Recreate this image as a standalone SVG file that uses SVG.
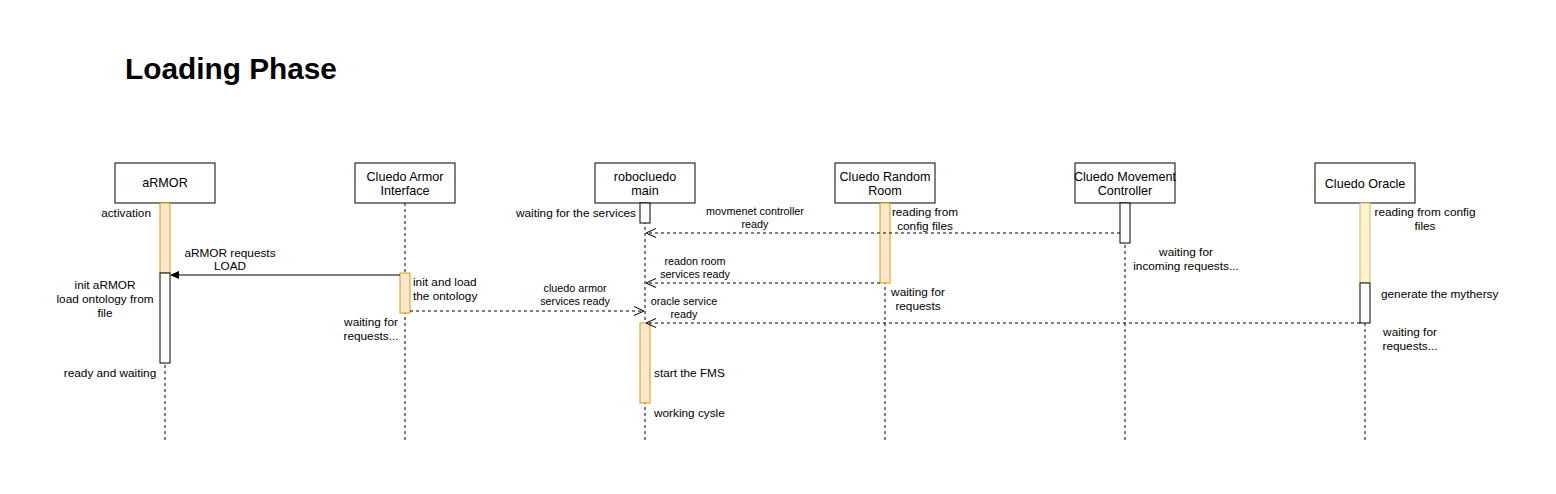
<svg xmlns="http://www.w3.org/2000/svg" width="1556" height="494" viewBox="0 0 1556 494">
<style>
text{font-family:"Liberation Sans",Arial,sans-serif;fill:#000}
.box{fill:#fff;stroke:#000;stroke-width:1}
.life{stroke:#000;stroke-width:1;stroke-dasharray:3,3;fill:none}
.actO{fill:#ffe6cc;stroke:#d79b00;stroke-width:1}
.actY{fill:#fff2cc;stroke:#d6b656;stroke-width:1}
.actW{fill:#fff;stroke:#000;stroke-width:1}
.lbl{font-size:12.6px;text-anchor:middle}
.t{font-size:11.8px}
.e{font-size:10.8px;text-anchor:middle}
.msg{stroke:#000;stroke-width:1;fill:none}
.ret{stroke:#000;stroke-width:1;fill:none;stroke-dasharray:3,3}
</style>
<defs>
<marker id="block" markerWidth="10" markerHeight="10" refX="8" refY="5" orient="auto" markerUnits="userSpaceOnUse">
<path d="M0,1.5 L8,5 L0,8.5 Z" fill="#000" stroke="#000"/>
</marker>
<marker id="open" markerWidth="12" markerHeight="12" refX="10" refY="6" orient="auto" markerUnits="userSpaceOnUse">
<path d="M0,1.5 L10,6 L0,10.5" fill="none" stroke="#000" stroke-width="1"/>
</marker>
</defs>
<rect width="1556" height="494" fill="#fff"/>
<text x="125" y="79" style="font-size:29.8px;font-weight:bold">Loading Phase</text>

<g id="armor">
<rect class="box" x="115" y="163" width="100" height="40"/>
<text class="lbl" x="165" y="187">aRMOR</text>
<line class="life" x1="165" y1="203" x2="165" y2="440"/>
<rect class="actO" x="160" y="203" width="10" height="70"/>
<rect class="actW" x="160" y="273" width="10" height="90"/>
<text class="t" x="151" y="217" text-anchor="end">activation</text>
<text class="t" text-anchor="middle" x="105" y="289">init aRMOR</text>
<text class="t" text-anchor="middle" x="105" y="303">load ontology from</text>
<text class="t" text-anchor="middle" x="105" y="317">file</text>
<text class="t" text-anchor="middle" x="110" y="377">ready and waiting</text>
</g>

<g id="armor-interface">
<rect class="box" x="355" y="163" width="100" height="40"/>
<text class="lbl" x="405" y="181">Cluedo Armor</text>
<text class="lbl" x="405" y="195">Interface</text>
<line class="life" x1="405" y1="203" x2="405" y2="440"/>
<rect class="actO" x="400" y="273" width="10" height="40"/>
<text class="t" x="413" y="286">init and load</text>
<text class="t" x="413" y="300">the ontology</text>
<text class="t" text-anchor="middle" x="371" y="326">waiting for</text>
<text class="t" text-anchor="middle" x="371" y="340">requests...</text>
</g>

<g id="robocluedo-main">
<rect class="box" x="595" y="163" width="100" height="40"/>
<text class="lbl" x="645" y="181">robocluedo</text>
<text class="lbl" x="645" y="195">main</text>
<line class="life" x1="645" y1="203" x2="645" y2="440"/>
<rect class="actW" x="640" y="203" width="10" height="20"/>
<rect class="actO" x="640" y="323" width="10" height="80"/>
<text class="t" x="636" y="217" text-anchor="end">waiting for the services</text>
<text class="t" x="654" y="377">start the FMS</text>
<text class="t" x="654" y="417">working cysle</text>
</g>

<g id="random-room">
<rect class="box" x="835" y="163" width="100" height="40"/>
<text class="lbl" x="885" y="181">Cluedo Random</text>
<text class="lbl" x="885" y="195">Room</text>
<line class="life" x1="885" y1="203" x2="885" y2="440"/>
<rect class="actO" x="880" y="203" width="10" height="80"/>
<text class="t" text-anchor="middle" x="925" y="216">reading from</text>
<text class="t" text-anchor="middle" x="925" y="230">config files</text>
<text class="t" text-anchor="middle" x="918" y="296">waiting for</text>
<text class="t" text-anchor="middle" x="918" y="310">requests</text>
</g>

<g id="movement-controller">
<rect class="box" x="1075" y="163" width="100" height="40"/>
<text class="lbl" x="1125" y="181">Cluedo Movement</text>
<text class="lbl" x="1125" y="195">Controller</text>
<line class="life" x1="1125" y1="203" x2="1125" y2="440"/>
<rect class="actW" x="1120" y="203" width="10" height="40"/>
<text class="t" text-anchor="middle" x="1186" y="256">waiting for</text>
<text class="t" text-anchor="middle" x="1186" y="270">incoming requests...</text>
</g>

<g id="oracle">
<rect class="box" x="1315" y="163" width="100" height="40"/>
<text class="lbl" x="1365" y="188">Cluedo Oracle</text>
<line class="life" x1="1365" y1="203" x2="1365" y2="440"/>
<rect class="actY" x="1360" y="203" width="10" height="80"/>
<rect class="actW" x="1360" y="283" width="10" height="40"/>
<text class="t" text-anchor="middle" x="1425" y="216">reading from config</text>
<text class="t" text-anchor="middle" x="1425" y="230">files</text>
<text class="t" x="1381" y="298">generate the mythersy</text>
<text class="t" text-anchor="middle" x="1410" y="336">waiting for</text>
<text class="t" text-anchor="middle" x="1410" y="350">requests...</text>
</g>

<g id="connectors">
<line class="msg" x1="400" y1="275" x2="171" y2="275" marker-end="url(#block)"/>
<text class="t" text-anchor="middle" x="230" y="257">aRMOR requests</text>
<text class="t" text-anchor="middle" x="230" y="270">LOAD</text>

<line class="ret" x1="410" y1="311" x2="644" y2="311" marker-end="url(#open)"/>
<text class="e" x="575" y="292">cluedo armor</text>
<text class="e" x="575" y="305">services ready</text>

<line class="ret" x1="1120" y1="233" x2="646" y2="233" marker-end="url(#open)"/>
<text class="e" x="755" y="215">movmenet controller</text>
<text class="e" x="755" y="228">ready</text>

<line class="ret" x1="880" y1="283" x2="646" y2="283" marker-end="url(#open)"/>
<text class="e" x="695" y="265">readon room</text>
<text class="e" x="695" y="278">services ready</text>

<line class="ret" x1="1360" y1="323" x2="646" y2="323" marker-end="url(#open)"/>
<text class="e" x="684" y="305">oracle service</text>
<text class="e" x="684" y="318">ready</text>
</g>
</svg>
